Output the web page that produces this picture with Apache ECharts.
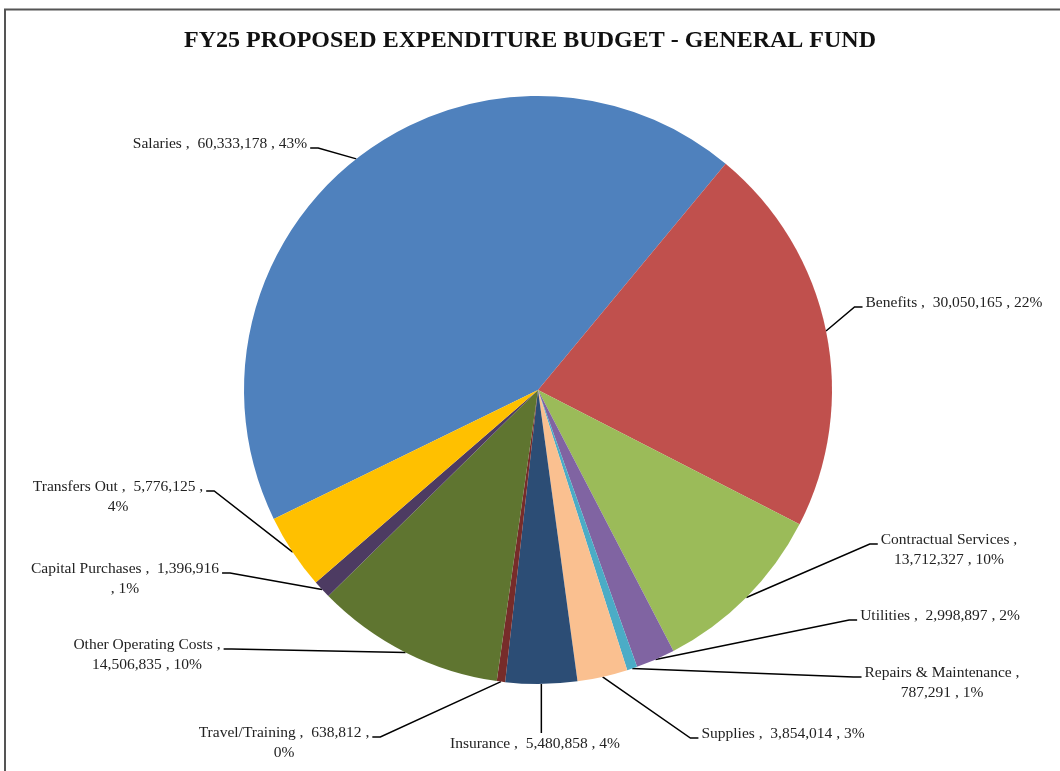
<!DOCTYPE html>
<html>
<head>
<meta charset="utf-8">
<script src="https://cdn.jsdelivr.net/npm/echarts@6/dist/echarts.min.js"></script>
<style>
  html, body { margin: 0; padding: 0; background: #fff; }
</style>
</head>
<body>
<div id="main" style="width: 1060px; height: 771px"></div>
<script>
const categories = [
  'Salaries',
  'Benefits',
  'Contractual Services',
  'Utilities',
  'Repairs & Maintenance',
  'Supplies',
  'Insurance',
  'Travel/Training',
  'Other Operating Costs',
  'Capital Purchases',
  'Transfers Out'
]
const amounts = [60333178, 30050165, 13712327, 2998897, 787291, 3854014, 5480858, 638812, 14506835, 1396916, 5776125]
const colors = ['#4F81BD', '#C0504D', '#9BBB59', '#8064A2', '#4BACC6', '#FAC090', '#2C4D75', '#772C2A', '#5F7530', '#4D3B62', '#FFC000']

// where each label sits, which side its leader attaches to, and where its text wraps
const spots = [
  [220, 144, 'r', 'n'],
  [954, 303, 'l', 'n'],
  [949, 550, 'l', 'a'],
  [940, 616, 'l', 'n'],
  [942, 683, 'l', 'a'],
  [783, 734, 'l', 'n'],
  [535, 744, 't', 'n'],
  [284, 743, 'r', 'b'],
  [147, 655, 'r', 'a'],
  [125, 579, 'r', 'c'],
  [118, 497, 'r', 'b']
]

const total = amounts.reduce((a, b) => a + b, 0)
const fmt = v => v.toLocaleString('en-US')

function labelText(p) {
  const pct = Math.round(p.value / total * 100) + '%'
  const v = fmt(p.value)
  switch (spots[p.dataIndex][3]) {
    case 'a': return p.name + ' ,\n' + v + ' , ' + pct
    case 'b': return p.name + ' ,  ' + v + ' ,\n' + pct
    case 'c': return p.name + ' ,  ' + v + '\n, ' + pct
    default: return p.name + ' ,  ' + v + ' , ' + pct
  }
}

const LH = 20

const myChart = echarts.init(document.getElementById('main'))
myChart.setOption({
  animation: false,
  color: colors,
  title: {
    text: 'FY25 PROPOSED EXPENDITURE BUDGET - GENERAL FUND',
    left: 'center',
    top: 24,
    textStyle: {
      fontFamily: 'Liberation Serif',
      fontWeight: 'bold',
      fontSize: 24,
      color: '#111'
    }
  },
  graphic: [{
    type: 'polyline',
    shape: { points: [[5, 771], [5, 9.5], [1060, 9.5]] },
    style: { stroke: '#555', lineWidth: 2, fill: null },
    silent: true
  }],
  series: [{
    type: 'pie',
    center: [538, 390],
    radius: 294,
    startAngle: 206,
    clockwise: true,
    avoidLabelOverlap: false,
    emphasis: { disabled: true },
    itemStyle: { borderWidth: 0 },
    data: categories.map((name, i) => ({ name, value: amounts[i] })),
    label: {
      show: true,
      position: 'outside',
      formatter: labelText,
      fontFamily: 'Liberation Serif',
      fontSize: 15.5,
      lineHeight: LH,
      color: '#222'
    },
    labelLine: {
      show: true,
      length: 20,
      length2: 10,
      lineStyle: { color: '#000', width: 1.5 }
    },
    labelLayout: function (params) {
      const s = spots[params.dataIndex]
      const w = params.labelRect.width
      const h = params.labelRect.height
      const lines = Math.round(h / LH)
      const p0 = params.labelLinePoints ? params.labelLinePoints[0] : [538, 390]
      const firstY = s[1] - (lines - 1) * LH / 2 + 4
      let pts
      if (s[2] === 't') {
        const top = s[1] - h / 2 - 1
        pts = [p0, [p0[0], top], [p0[0], top]]
      } else if (s[2] === 'l') {
        const ex = s[0] - w / 2 - 3
        pts = [p0, [ex - 8, firstY], [ex, firstY]]
      } else {
        const ex = s[0] + w / 2 + 3
        pts = [p0, [ex + 8, firstY], [ex, firstY]]
      }
      return {
        x: s[0],
        y: s[1],
        align: 'center',
        verticalAlign: 'middle',
        labelLinePoints: pts
      }
    }
  }]
})
</script>
</body>
</html>
